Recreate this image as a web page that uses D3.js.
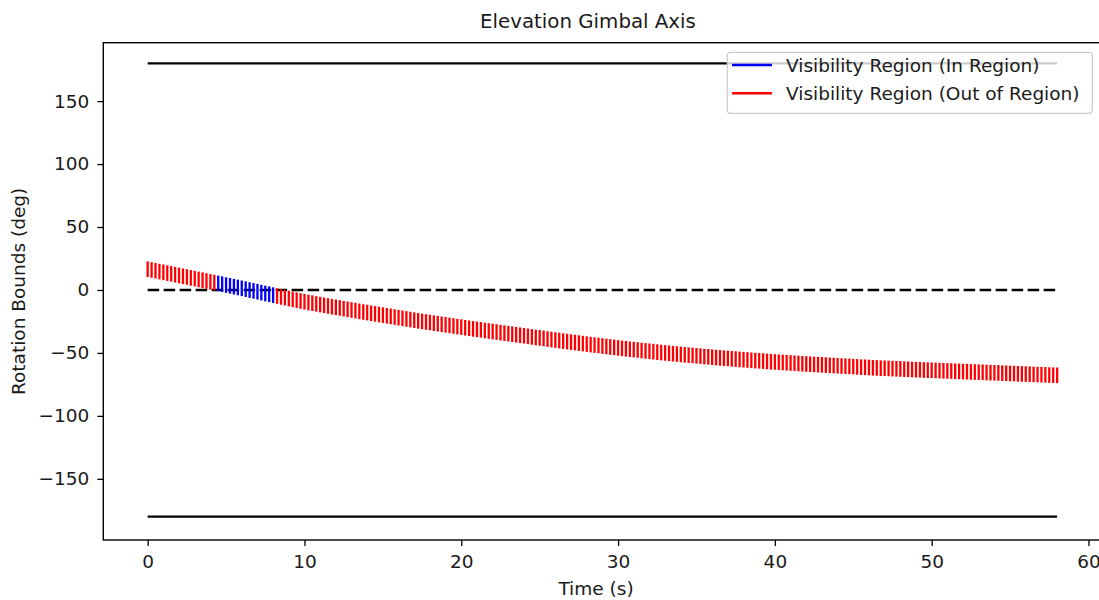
<!DOCTYPE html>
<html>
<head>
<meta charset="utf-8">
<script src="https://cdn.jsdelivr.net/npm/d3@7"></script>
<style>
  html, body { margin: 0; padding: 0; background: #fff; }
  svg { display: block; font-family: "DejaVu Sans", sans-serif; }
</style>
</head>
<body>
<svg id="chart" width="1099" height="600"></svg>
<script>
// ---- data ----
const timeStep = 0.25;           // seconds between visibility samples
const timeStart = 0;
// centre of the visibility region (deg), one value per sample
const regionCentre = [
  16.5, 15.9, 15.3, 14.6, 14.0, 13.4, 12.8, 12.1, 11.5, 10.9, 10.3, 9.6,
  9.0, 8.4, 7.8, 7.1, 6.5, 5.9, 5.2, 4.6, 3.9, 3.3, 2.6, 2.0,
  1.3, 0.6, -0.1, -0.7, -1.4, -2.1, -2.8, -3.4, -4.1, -4.8, -5.5, -6.1,
  -6.8, -7.5, -8.1, -8.8, -9.4, -10.0, -10.5, -11.1, -11.6, -12.2, -12.7, -13.3,
  -13.8, -14.3, -14.9, -15.4, -15.9, -16.4, -17.0, -17.5, -18.0, -18.5, -19.0, -19.5,
  -20.0, -20.5, -21.0, -21.5, -22.0, -22.5, -23.0, -23.5, -24.0, -24.5, -25.0, -25.4,
  -25.9, -26.4, -26.8, -27.3, -27.7, -28.2, -28.6, -29.1, -29.5, -30.0, -30.4, -30.9,
  -31.3, -31.7, -32.2, -32.6, -33.0, -33.4, -33.9, -34.3, -34.7, -35.1, -35.6, -36.0,
  -36.4, -36.8, -37.3, -37.7, -38.1, -38.5, -39.0, -39.4, -39.8, -40.2, -40.6, -41.0,
  -41.4, -41.8, -42.2, -42.6, -43.0, -43.4, -43.8, -44.1, -44.5, -44.9, -45.3, -45.6,
  -46.0, -46.4, -46.7, -47.1, -47.4, -47.7, -48.1, -48.4, -48.7, -49.0, -49.4, -49.7,
  -50.0, -50.3, -50.6, -50.9, -51.2, -51.5, -51.8, -52.0, -52.3, -52.6, -52.9, -53.1,
  -53.4, -53.7, -53.9, -54.2, -54.4, -54.7, -54.9, -55.2, -55.4, -55.6, -55.9, -56.1,
  -56.3, -56.5, -56.8, -57.0, -57.2, -57.4, -57.6, -57.8, -58.0, -58.2, -58.4, -58.6,
  -58.8, -59.0, -59.2, -59.3, -59.5, -59.7, -59.9, -60.0, -60.2, -60.4, -60.6, -60.7,
  -60.9, -61.1, -61.3, -61.4, -61.6, -61.8, -61.9, -62.1, -62.2, -62.3, -62.5, -62.6,
  -62.7, -62.9, -63.0, -63.2, -63.3, -63.4, -63.6, -63.7, -63.8, -63.9, -64.1, -64.2,
  -64.3, -64.4, -64.6, -64.7, -64.8, -64.9, -65.1, -65.2, -65.3, -65.4, -65.6, -65.7,
  -65.8, -65.9, -66.1, -66.2, -66.3, -66.4, -66.6, -66.7, -66.8, -66.9, -67.1, -67.2,
  -67.3, -67.4, -67.6, -67.7, -67.8
];
const regionHalfSpan = 6.2;        // half height of each visibility bar (deg)
const inRegionWindow = [4.5, 8.0]; // time span (s) drawn as "In Region"
const gimbalLimits = [180, -180];  // solid black limit lines (deg)
const centreLine = 0;              // dashed reference line (deg)
const lineSpan = [0, 58];          // time span of the reference lines (s)
const xTicks = [0, 10, 20, 30, 40, 50, 60];
const yTicks = [-150, -100, -50, 0, 50, 100, 150];
const legendLabels = ["Visibility Region (In Region)", "Visibility Region (Out of Region)"];
const legendColors = ["#0000ff", "#ff0000"];

// ---- layout ----
const svg = d3.select("#chart");
const plot = { left: 103.3, right: 1101.5, top: 42.7, bottom: 540 };
const FS = 18.5;        // tick / label / legend font size
const textColor = "#1a1a1a";

const x = d3.scaleLinear().domain([-2.83, 60.83]).range([plot.left, plot.right]);
const y = d3.scaleLinear().domain([-198.6, 196.4]).range([plot.bottom, plot.top]);

const samples = regionCentre.map((c, i) => {
  const t = timeStart + i * timeStep;
  const inside = t >= inRegionWindow[0] - 1e-9 && t <= inRegionWindow[1] + 1e-9;
  return { t, lo: c - regionHalfSpan, hi: c + regionHalfSpan, inside };
});

const g = svg.append("g");

// limit lines
g.selectAll("line.limit").data(gimbalLimits).enter().append("line")
  .attr("x1", x(lineSpan[0])).attr("x2", x(lineSpan[1]))
  .attr("y1", d => y(d)).attr("y2", d => y(d))
  .attr("stroke", "#000").attr("stroke-width", 2.4);

// dashed zero line
g.append("line")
  .attr("x1", x(lineSpan[0])).attr("x2", x(lineSpan[1]))
  .attr("y1", y(centreLine)).attr("y2", y(centreLine))
  .attr("stroke", "#000").attr("stroke-width", 2.4)
  .attr("stroke-dasharray", "11.5,4.5");

// visibility bars
g.selectAll("line.bar").data(samples).enter().append("line")
  .attr("x1", d => x(d.t)).attr("x2", d => x(d.t))
  .attr("y1", d => y(d.hi)).attr("y2", d => y(d.lo))
  .attr("stroke", d => d.inside ? legendColors[0] : legendColors[1])
  .attr("stroke-width", 2.3);

// axes
const xAxis = svg.append("g").attr("transform", `translate(0,${plot.bottom})`)
  .call(d3.axisBottom(x).tickValues(xTicks).tickSize(6).tickPadding(6).tickFormat(d3.format("d")));
const yAxis = svg.append("g").attr("transform", `translate(${plot.left},0)`)
  .call(d3.axisLeft(y).tickValues(yTicks).tickSize(6).tickPadding(8)
    .tickFormat(d => d < 0 ? "\u2212" + Math.abs(d) : String(d)));
[xAxis, yAxis].forEach(a => {
  a.select(".domain").remove();
  a.selectAll(".tick line").attr("stroke", "#000").attr("stroke-width", 1.3);
  a.selectAll(".tick text").attr("fill", textColor)
    .style("font-size", FS + "px").style("font-family", "DejaVu Sans, sans-serif");
});
xAxis.selectAll(".tick text").attr("y", 28.3).attr("dy", 0);

// frame
svg.append("rect")
  .attr("x", plot.left).attr("y", plot.top)
  .attr("width", plot.right - plot.left).attr("height", plot.bottom - plot.top)
  .attr("fill", "none").attr("stroke", "#000").attr("stroke-width", 1.4);

// title and labels
svg.append("text").attr("x", 588).attr("y", 28)
  .attr("text-anchor", "middle").attr("fill", textColor)
  .style("font-size", "19.8px").text("Elevation Gimbal Axis");
svg.append("text").attr("x", 596).attr("y", 595)
  .attr("text-anchor", "middle").attr("fill", textColor)
  .style("font-size", FS + "px").text("Time (s)");
svg.append("text")
  .attr("transform", `translate(25,${(plot.top + plot.bottom) / 2}) rotate(-90)`)
  .attr("text-anchor", "middle").attr("fill", textColor)
  .style("font-size", FS + "px").text("Rotation Bounds (deg)");

// legend
const leg = svg.append("g");
leg.append("rect")
  .attr("x", 727.3).attr("y", 52.3).attr("width", 365).attr("height", 61)
  .attr("rx", 3).attr("ry", 3)
  .attr("fill", "#fff").attr("fill-opacity", 0.8)
  .attr("stroke", "#cccccc").attr("stroke-width", 1.2);
legendLabels.forEach((lab, i) => {
  const yy = 65 + i * 28.3;
  leg.append("line").attr("x1", 732).attr("x2", 772)
    .attr("y1", yy).attr("y2", yy)
    .attr("stroke", legendColors[i]).attr("stroke-width", 2.4);
  leg.append("text").attr("x", 786).attr("y", yy + 6.6)
    .attr("fill", textColor).style("font-size", FS + "px").text(lab);
});
</script>
</body>
</html>
